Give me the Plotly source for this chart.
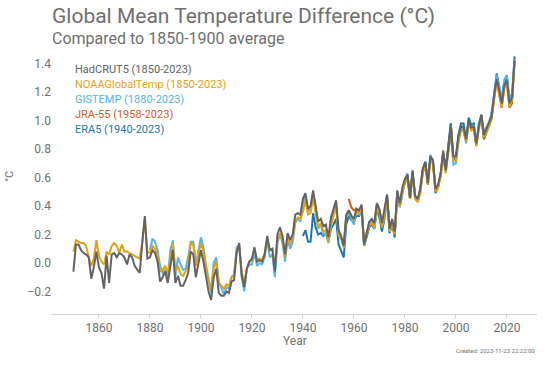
import plotly.graph_objects as go

# ---------------- data (anomaly vs 1850-1900, °C) ----------------
hadcrut_start = 1850
hadcrut5 = [
    -0.06, 0.13, 0.13, 0.09, 0.07, 0.06, 0.04, -0.11, -0.03, 0.08,
    -0.03, -0.07, -0.18, 0.05, -0.14, 0.06, 0.07, 0.04, 0.07, 0.06,
    0.04, -0.01, 0.06, 0.04, -0.02, -0.05, -0.07, 0.14, 0.33, 0.03,
    0.04, 0.09, 0.07, 0.01, -0.13, -0.10, -0.06, -0.14, -0.02, 0.09,
    -0.14, -0.09, -0.16, -0.16, -0.12, -0.07, 0.08, 0.06, -0.10, 0.01,
    0.09, 0.01, -0.10, -0.20, -0.26, -0.10, -0.04, -0.21, -0.23, -0.23,
    -0.20, -0.21, -0.13, -0.12, 0.07, 0.14, -0.09, -0.17, -0.04, 0.01,
    0.03, 0.11, 0.01, 0.02, 0.01, 0.06, 0.19, 0.09, 0.10, -0.06,
    0.20, 0.25, 0.19, 0.06, 0.21, 0.16, 0.20, 0.34, 0.35, 0.34,
    0.45, 0.49, 0.38, 0.40, 0.51, 0.40, 0.29, 0.31, 0.26, 0.27,
    0.18, 0.32, 0.38, 0.44, 0.23, 0.19, 0.12, 0.34, 0.37, 0.33,
    0.31, 0.38, 0.37, 0.41, 0.13, 0.22, 0.29, 0.31, 0.28, 0.42,
    0.38, 0.28, 0.37, 0.48, 0.24, 0.31, 0.22, 0.51, 0.42, 0.53,
    0.59, 0.62, 0.46, 0.65, 0.47, 0.45, 0.52, 0.66, 0.71, 0.56,
    0.75, 0.72, 0.52, 0.55, 0.63, 0.78, 0.65, 0.81, 0.95, 0.75,
    0.75, 0.89, 0.96, 0.95, 0.87, 1.00, 0.95, 0.96, 0.84, 0.96,
    1.04, 0.90, 0.94, 0.98, 1.03, 1.18, 1.29, 1.21, 1.12, 1.25,
    1.28, 1.12, 1.16, 1.42,
]

noaa_start = 1850
noaa = [
    0.08, 0.16, 0.15, 0.14, 0.14, 0.12, 0.04, -0.02, 0.03, 0.16,
    0.05, 0.01, -0.01, 0.08, 0.06, 0.12, 0.14, 0.12, 0.07, 0.13,
    0.08, 0.08, 0.07, 0.06, 0.05, 0.04, 0.03, 0.15, 0.31, 0.08,
    0.07, 0.12, 0.10, 0.05, -0.06, -0.05, -0.02, -0.08, 0.03, 0.14,
    -0.06, -0.02, -0.08, -0.09, -0.06, -0.02, 0.14, 0.13, -0.02, 0.06,
    0.14, 0.08, -0.03, -0.12, -0.19, -0.04, 0.01, -0.14, -0.16, -0.18,
    -0.15, -0.16, -0.10, -0.08, 0.08, 0.13, -0.06, -0.14, -0.04, 0.01,
    0.02, 0.10, 0.02, 0.03, 0.02, 0.07, 0.17, 0.09, 0.10, -0.03,
    0.16, 0.21, 0.17, 0.04, 0.18, 0.13, 0.18, 0.29, 0.32, 0.31,
    0.36, 0.44, 0.34, 0.35, 0.46, 0.36, 0.25, 0.28, 0.22, 0.23,
    0.15, 0.26, 0.33, 0.40, 0.20, 0.17, 0.11, 0.33, 0.37, 0.33,
    0.30, 0.36, 0.35, 0.38, 0.12, 0.20, 0.26, 0.28, 0.25, 0.39,
    0.35, 0.25, 0.33, 0.46, 0.22, 0.28, 0.20, 0.49, 0.40, 0.50,
    0.56, 0.59, 0.45, 0.62, 0.45, 0.43, 0.49, 0.63, 0.68, 0.55,
    0.73, 0.69, 0.50, 0.53, 0.60, 0.75, 0.63, 0.78, 0.93, 0.72,
    0.72, 0.86, 0.93, 0.93, 0.85, 0.98, 0.93, 0.94, 0.82, 0.94,
    1.02, 0.88, 0.92, 0.96, 1.02, 1.16, 1.27, 1.18, 1.10, 1.23,
    1.26, 1.10, 1.14, 1.40,
]

gistemp_start = 1880
gistemp = [
    0.09, 0.17, 0.15, 0.09, -0.02, -0.07, -0.05, -0.10, 0.09, 0.16,
    -0.09, 0.04, -0.01, -0.05, -0.04, 0.04, 0.15, 0.15, -0.01, 0.09,
    0.18, 0.11, -0.02, -0.11, -0.21, 0.00, 0.04, -0.13, -0.17, -0.22,
    -0.17, -0.18, -0.10, -0.08, 0.11, 0.12, -0.10, -0.20, -0.04, -0.01,
    -0.01, 0.07, -0.02, 0.00, -0.01, 0.04, 0.16, 0.04, 0.06, -0.10,
    0.14, 0.20, 0.14, 0.01, 0.17, 0.10, 0.15, 0.28, 0.31, 0.29,
    0.42, 0.47, 0.36, 0.38, 0.49, 0.38, 0.24, 0.27, 0.20, 0.21,
    0.14, 0.28, 0.35, 0.42, 0.19, 0.17, 0.11, 0.33, 0.35, 0.31,
    0.27, 0.36, 0.34, 0.37, 0.12, 0.20, 0.26, 0.30, 0.24, 0.37,
    0.36, 0.25, 0.34, 0.48, 0.22, 0.30, 0.21, 0.49, 0.39, 0.48,
    0.58, 0.63, 0.46, 0.62, 0.47, 0.43, 0.49, 0.63, 0.70, 0.58,
    0.76, 0.71, 0.53, 0.54, 0.62, 0.76, 0.64, 0.77, 0.92, 0.69,
    0.70, 0.85, 0.94, 0.93, 0.84, 0.99, 0.95, 0.97, 0.85, 0.96,
    1.03, 0.92, 0.96, 0.99, 1.06, 1.21, 1.32, 1.23, 1.16, 1.29,
    1.32, 1.15, 1.19, 1.43,
]

jra55_start = 1958
jra55 = [
    0.45, 0.39, 0.37, 0.38, 0.36, 0.40, 0.14, 0.22, 0.28, 0.30,
    0.28, 0.41, 0.37, 0.26, 0.36, 0.47, 0.24, 0.29, 0.20, 0.49,
    0.41, 0.51, 0.57, 0.62, 0.45, 0.64, 0.47, 0.44, 0.52, 0.66,
    0.70, 0.55, 0.74, 0.72, 0.50, 0.53, 0.62, 0.79, 0.65, 0.81,
    0.98, 0.73, 0.73, 0.88, 0.96, 0.95, 0.86, 1.00, 0.95, 0.95,
    0.82, 0.96, 1.03, 0.87, 0.92, 0.97, 1.01, 1.16, 1.30, 1.18,
    1.09, 1.24, 1.27, 1.09, 1.12, 1.42,
]

era5_start = 1940
era5 = [
    0.19, 0.23, 0.15, 0.15, 0.35, 0.25, 0.20, 0.21, 0.19, 0.21,
    0.15, 0.24, 0.27, 0.31, 0.13, 0.09, 0.04, 0.27, 0.33, 0.30,
    0.29, 0.33, 0.33, 0.37, 0.12, 0.18, 0.25, 0.27, 0.24, 0.38,
    0.32, 0.22, 0.31, 0.45, 0.21, 0.27, 0.18, 0.47, 0.40, 0.50,
    0.57, 0.61, 0.45, 0.64, 0.46, 0.43, 0.51, 0.65, 0.71, 0.57,
    0.75, 0.71, 0.49, 0.53, 0.62, 0.77, 0.66, 0.82, 0.98, 0.73,
    0.74, 0.90, 0.98, 0.98, 0.86, 1.02, 0.97, 0.98, 0.83, 0.98,
    1.04, 0.87, 0.92, 0.98, 1.03, 1.18, 1.33, 1.24, 1.14, 1.27,
    1.31, 1.13, 1.15, 1.45,
]

series_names = [
    "HadCRUT5 (1850-2023)",
    "NOAAGlobalTemp (1850-2023)",
    "GISTEMP (1880-2023)",
    "JRA-55 (1958-2023)",
    "ERA5 (1940-2023)",
]
x_ticks = [1860, 1880, 1900, 1920, 1940, 1960, 1980, 2000, 2020]
y_ticks = [-0.2, 0.0, 0.2, 0.4, 0.6, 0.8, 1.0, 1.2, 1.4]

assert len(hadcrut5) == 174 and len(noaa) == 174
assert len(gistemp) == 144 and len(jra55) == 66 and len(era5) == 84

# ---------------- styling ----------------
FONT = "Roboto"
colors = {
    "HadCRUT5 (1850-2023)": "#636363",
    "NOAAGlobalTemp (1850-2023)": "#E1A215",
    "GISTEMP (1880-2023)": "#56B4E9",
    "JRA-55 (1958-2023)": "#D2601A",
    "ERA5 (1940-2023)": "#1A77B0",
}
text_grey = "#707070"

def yrs(start, vals):
    return list(range(start, start + len(vals)))

draw = [
    ("JRA-55 (1958-2023)", jra55_start, jra55),
    ("ERA5 (1940-2023)", era5_start, era5),
    ("GISTEMP (1880-2023)", gistemp_start, gistemp),
    ("NOAAGlobalTemp (1850-2023)", noaa_start, noaa),
    ("HadCRUT5 (1850-2023)", hadcrut_start, hadcrut5),
]

fig = go.Figure()
for name, start, vals in draw:
    fig.add_trace(go.Scatter(
        x=yrs(start, vals), y=vals, mode="lines", name=name,
        line=dict(color=colors[name], width=2),
        showlegend=False, hoverinfo="x+y+name",
    ))

L, R, T, B = 52, 20, 55, 51
W, H = 557, 365
pw, ph = W - L - R, H - T - B

def px(xp):
    return (xp - L) / pw

def py(yp):
    return (H - B - yp) / ph

def ann(text, xp, yp, size, color, xanchor="left", **kw):
    return dict(text=text, x=px(xp), y=py(yp), xref="paper", yref="paper",
                xanchor=xanchor, yanchor="middle", showarrow=False,
                font=dict(family=FONT, size=size, color=color), **kw)

annotations = [
    ann("Global Mean Temperature Difference (°C)", 50, 16.5, 21, text_grey),
    ann("Compared to 1850-1900 average", 50, 39, 16, text_grey),
    ann("Year", (L + W - R) / 2, 341, 12, text_grey, xanchor="center"),
    ann("°C", 9, 177, 11, text_grey, xanchor="center", textangle=-90),
    ann("Created: 2023-11-23 22:22:00", W - R, 350, 6, "#777777",
        xanchor="right"),
]
legend_y = [69, 84, 99, 114, 129]
for name, yp in zip(series_names, legend_y):
    annotations.append(ann(name, 73, yp, 11, colors[name]))

fig.update_layout(
    width=W, height=H,
    margin=dict(l=L, r=R, t=T, b=B),
    paper_bgcolor="white", plot_bgcolor="white",
    font=dict(family=FONT, color=text_grey),
    annotations=annotations,
    xaxis=dict(
        range=[1841.6, 2031.8], tickmode="array", tickvals=x_ticks,
        showgrid=False, zeroline=False, showline=True,
        linecolor="#d3d3d3", linewidth=1,
        ticks="outside", ticklen=3, tickcolor="#d3d3d3",
        tickfont=dict(family=FONT, size=12, color=text_grey),
    ),
    yaxis=dict(
        range=[-0.358, 1.46], tickmode="array", tickvals=y_ticks,
        tickformat=".1f", showgrid=False, zeroline=False, showline=False,
        ticks="", tickfont=dict(family=FONT, size=12, color=text_grey),
    ),
    showlegend=False,
)

fig.write_html(
    "out.html",
    config={"displayModeBar": False},
    post_script="document.body.style.margin='0';document.body.style.padding='0';",
)
